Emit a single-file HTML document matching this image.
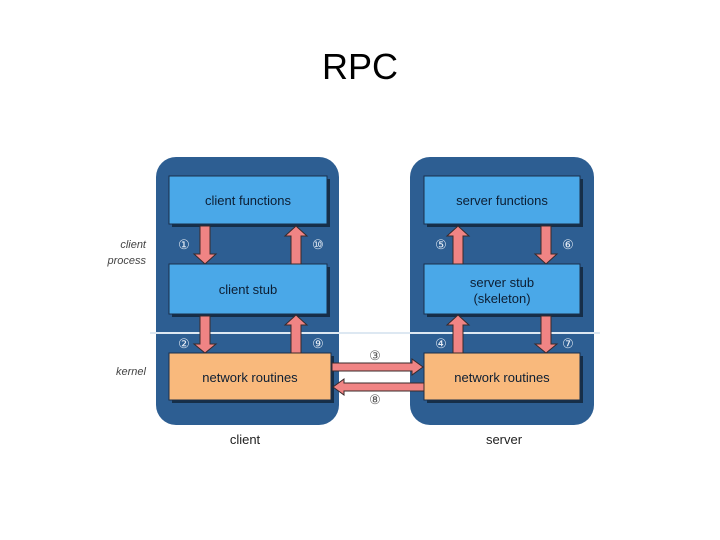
<!DOCTYPE html>
<html><head><style>
body{margin:0;width:720px;height:540px;background:#fff;position:relative;overflow:hidden;font-family:"Liberation Sans",sans-serif}
.t{position:absolute;left:0;width:720px;top:46px;text-align:center;font-size:36px;color:#000}
</style></head><body>
<div class="t">RPC</div>
<svg width="720" height="540" style="position:absolute;left:0;top:0" font-family="Liberation Sans, sans-serif">
<defs>
<marker id="ah" markerWidth="4" markerHeight="4" refX="2" refY="2" orient="auto"></marker>
</defs>
<rect x="156" y="157" width="183" height="268" rx="20" fill="#2d5e92"/>
<rect x="410" y="157" width="184" height="268" rx="20" fill="#2d5e92"/>
<line x1="150" y1="333" x2="600" y2="333" stroke="#dde8f2" stroke-width="2"/>
<g fill="#000" opacity="0.5">
<rect x="172" y="179" width="158" height="48"/><rect x="172" y="267" width="158" height="50"/><rect x="172" y="356" width="162" height="47"/>
<rect x="427" y="179" width="156" height="48"/><rect x="427" y="267" width="156" height="50"/><rect x="427" y="356" width="156" height="47"/>
</g>
<g stroke="#1a2f4a" stroke-width="1">
<rect x="169" y="176" width="158" height="48" fill="#4aa8e8"/>
<rect x="169" y="264" width="158" height="50" fill="#4aa8e8"/>
<rect x="169" y="353" width="162" height="47" fill="#f9b97c"/>
<rect x="424" y="176" width="156" height="48" fill="#4aa8e8"/>
<rect x="424" y="264" width="156" height="50" fill="#4aa8e8"/>
<rect x="424" y="353" width="156" height="47" fill="#f9b97c"/>
</g>
<g fill="#f08484" stroke="#3a2a2a" stroke-width="1">
<!-- down arrows -->
<path d="M200 226h10v28h6l-11 10l-11-10h6z"/>
<path d="M200 316h10v28h6l-11 9l-11-9h6z"/>
<path d="M541 226h10v28h6l-11 10l-11-10h6z"/>
<path d="M541 316h10v28h6l-11 9l-11-9h6z"/>
<!-- up arrows -->
<path d="M291 264v-28h-6l11-10l11 10h-6v28z"/>
<path d="M291 353v-28h-6l11-10l11 10h-6v28z"/>
<path d="M453 264v-28h-6l11-10l11 10h-6v28z"/>
<path d="M453 353v-28h-6l11-10l11 10h-6v28z"/>
<!-- horizontal -->
<path d="M332 363h80v-4l11 8l-11 8v-4h-80z"/>
<path d="M424 383h-80v-4l-11 8l11 8v-4h80z"/>
</g>
<g font-size="13" fill="#0d1e33" text-anchor="middle">
<text x="248" y="205">client functions</text>
<text x="248" y="294">client stub</text>
<text x="250" y="382">network routines</text>
<text x="502" y="205">server functions</text>
<text x="502" y="287">server stub</text>
<text x="502" y="303">(skeleton)</text>
<text x="502" y="382">network routines</text>
</g>
<g font-size="13" fill="#e8eef6" text-anchor="middle">
<text x="184" y="249">①</text><text x="318" y="249">⑩</text>
<text x="184" y="348">②</text><text x="318" y="348">⑨</text>
<text x="441" y="249">⑤</text><text x="568" y="249">⑥</text>
<text x="441" y="348">④</text><text x="568" y="348">⑦</text>
</g>
<g font-size="13" fill="#555" text-anchor="middle">
<text x="375" y="360">③</text><text x="375" y="404">⑧</text>
</g>
<g font-size="11" fill="#444" font-style="italic" text-anchor="end">
<text x="146" y="248">client</text><text x="146" y="264">process</text>
<text x="146" y="375">kernel</text>
</g>
<g font-size="13" fill="#222" text-anchor="middle">
<text x="245" y="444">client</text><text x="504" y="444">server</text>
</g>
</svg>
</body></html>
